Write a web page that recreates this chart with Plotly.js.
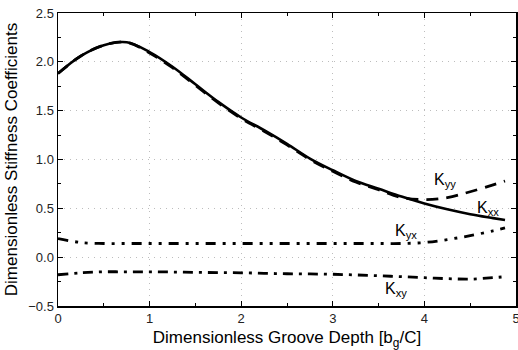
<!DOCTYPE html>
<html>
<head>
<meta charset="utf-8">
<script src="https://cdn.plot.ly/plotly-3.0.1.min.js"></script>
<style>html,body{margin:0;padding:0;background:#fff;}#chart{width:518px;height:350px;}</style>
</head>
<body>
<div id="chart"></div>
<script>
const depth = [0,0.25,0.5,0.75,1,1.25,1.5,1.75,2,2.25,2.5,2.75,3,3.25,3.5,3.75,4,4.25,4.5,4.75,4.88];
const kxx = [1.88,2.06,2.17,2.20,2.10,1.95,1.77,1.59,1.43,1.30,1.16,1.01,0.89,0.78,0.70,0.62,0.55,0.49,0.44,0.40,0.38];
const kyy = [1.88,2.06,2.17,2.20,2.09,1.94,1.76,1.58,1.42,1.29,1.15,1.00,0.88,0.77,0.69,0.61,0.59,0.61,0.67,0.74,0.78];
const kyx = [0.19,0.15,0.14,0.14,0.14,0.14,0.14,0.14,0.14,0.14,0.14,0.14,0.14,0.14,0.14,0.14,0.15,0.18,0.22,0.27,0.30];
const kxy = [-0.18,-0.16,-0.15,-0.15,-0.15,-0.152,-0.155,-0.158,-0.16,-0.165,-0.17,-0.172,-0.175,-0.182,-0.19,-0.20,-0.21,-0.22,-0.225,-0.21,-0.20];
const labels = ["K<sub>yy</sub>","K<sub>xx</sub>","K<sub>yx</sub>","K<sub>xy</sub>"];
const labelX = [4.08,4.55,3.66,3.55];
const labelY = [0.78,0.50,0.26,-0.33];

const font = "Liberation Sans, Arial, sans-serif";
const traces = [
  {x: depth, y: kxx, mode: 'lines', line: {color: '#000', width: 2.6, shape: 'spline'}, name: 'Kxx'},
  {x: depth, y: kyy, mode: 'lines', line: {color: '#000', width: 2.8, dash: '12px,8px', shape: 'spline'}, name: 'Kyy'},
  {x: depth, y: kyx, mode: 'lines', line: {color: '#000', width: 2.8, dash: '10px,7px,3px,7px,3px,7px', shape: 'spline'}, name: 'Kyx'},
  {x: depth, y: kxy, mode: 'lines', line: {color: '#000', width: 2.8, dash: '10px,6px,3px,6px', shape: 'spline'}, name: 'Kxy'}
];
const annotations = labels.map((t, i) => ({
  x: labelX[i], y: labelY[i], xref: 'x', yref: 'y', text: t, showarrow: false,
  xanchor: 'left', yanchor: 'middle', font: {family: font, size: 16, color: '#000'}
}));
const axisCommon = {
  showline: true, linecolor: '#000', linewidth: 1.5, mirror: 'allticks',
  ticks: 'inside', ticklen: 5, tickcolor: '#000', tickwidth: 1,
  showgrid: true, gridcolor: '#bdbdbd', griddash: '1px,5px', gridwidth: 1,
  zeroline: false, ticklabeloverflow: 'allow',
  tickfont: {family: font, size: 13, color: '#222'}
};
const layout = {
  width: 518, height: 350,
  margin: {l: 57.5, r: 1.5, t: 13, b: 44},
  paper_bgcolor: '#fff', plot_bgcolor: '#fff',
  showlegend: false,
  xaxis: Object.assign({}, axisCommon, {
    range: [0, 5], dtick: 1, tick0: 0,
    minor: {dtick: 0.5, ticks: 'inside', ticklen: 3, tickcolor: '#000', showgrid: false},
    title: {text: 'Dimensionless Groove Depth [b<sub>g</sub>/C]', font: {family: font, size: 17, color: '#000'}, standoff: 8}
  }),
  yaxis: Object.assign({}, axisCommon, {
    range: [-0.5, 2.5], dtick: 0.5, tick0: 0, tickformat: '.1f',
    minor: {dtick: 0.25, ticks: 'inside', ticklen: 3, tickcolor: '#000', showgrid: false},
    title: {text: 'Dimensionless Stiffness Coefficients', font: {family: font, size: 17, color: '#000'}, standoff: 6}
  }),
  annotations: annotations
};
Plotly.newPlot('chart', traces, layout, {displayModeBar: false, staticPlot: true});
</script>
</body>
</html>
